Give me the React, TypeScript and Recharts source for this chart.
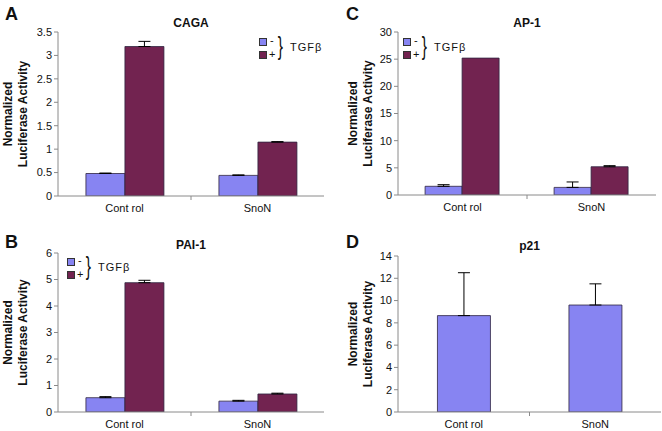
import React from 'react';
import { BarChart, Bar, XAxis, YAxis, ErrorBar } from 'recharts';

const categories = ['Cont rol', 'SnoN'];

// A: CAGA
const cagaMinus = [0.48, 0.44];
const cagaMinusTop = [0.49, 0.45];
const cagaPlus = [3.19, 1.15];
const cagaPlusTop = [3.3, 1.16];
const cagaTicks = [0, 0.5, 1, 1.5, 2, 2.5, 3, 3.5];

// C: AP-1
const ap1Minus = [1.6, 1.4];
const ap1MinusTop = [1.9, 2.4];
const ap1Plus = [25.2, 5.2];
const ap1PlusTop = [25.2, 5.4];
const ap1Ticks = [0, 5, 10, 15, 20, 25, 30];

// B: PAI-1
const paiMinus = [0.54, 0.41];
const paiMinusTop = [0.58, 0.44];
const paiPlus = [4.88, 0.68];
const paiPlusTop = [4.97, 0.71];
const paiTicks = [0, 1, 2, 3, 4, 5, 6];

// D: p21
const p21 = [8.65, 9.6];
const p21Top = [12.5, 11.5];
const p21Ticks = [0, 2, 4, 6, 8, 10, 12, 14];

const LIGHT = '#8784f2';
const DARK = '#722350';
const AXIS = '#8a8a8a';
const FONT = '"Liberation Sans", Arial, sans-serif';

// upward-only error: [below, above]; no bar drawn when nothing shows
const upErr = (v: number, top: number) => (top > v ? [0, top - v] : null);

const pairRows = (minus: number[], minusTop: number[], plus: number[], plusTop: number[]) =>
    categories.map((c, i) => ({
        name: c,
        minus: minus[i],
        minusErr: upErr(minus[i], minusTop[i]),
        plus: plus[i],
        plusErr: upErr(plus[i], plusTop[i]),
    }));

const YLabel = (props: any) => {
    const { viewBox, dx1, dx2 } = props;
    const cy = viewBox.y + viewBox.height / 2;
    const a = viewBox.x + dx1;
    const b = viewBox.x + dx2;
    return (
        <g fontFamily={FONT} fontWeight="bold" fontSize={12} fill="#111">
            <text x={a} y={cy} textAnchor="middle" dominantBaseline="central" transform={`rotate(-90, ${a}, ${cy})`}>Normalized</text>
            <text x={b} y={cy} textAnchor="middle" dominantBaseline="central" transform={`rotate(-90, ${b}, ${cy})`}>Luciferase Activity</text>
        </g>
    );
};

const XTick = (props: any) => {
    const { x, y, payload, index } = props;
    const off = payload && payload.offset ? payload.offset : 0;
    return (
        <g>
            <text x={x} y={y + 12} textAnchor="middle" dominantBaseline="central" fontFamily={FONT} fontSize={11} fill="#111">{payload.value}</text>
            {index === 0 && off ? <line x1={x + off} x2={x + off} y1={y} y2={y + 4} stroke={AXIS} /> : null}
        </g>
    );
};

const TgfLegend = ({ x, y }: { x: number; y: number }) => (
    <div style={{ position: 'absolute', left: x, top: y, width: 60, height: 24, fontFamily: FONT, fontSize: 11, color: '#111' }}>
        <div style={{ position: 'absolute', left: 0, top: 1, width: 6, height: 6, background: LIGHT, border: '1px solid #333' }} />
        <div style={{ position: 'absolute', left: 0, top: 14, width: 6, height: 6, background: DARK, border: '1px solid #333' }} />
        <div style={{ position: 'absolute', left: 11, top: -3, lineHeight: '12px' }}>-</div>
        <div style={{ position: 'absolute', left: 10, top: 11, lineHeight: '12px' }}>+</div>
        <div style={{ position: 'absolute', left: 17, top: -6, fontSize: 26, lineHeight: '30px', fontWeight: 300, transform: 'scaleX(0.6)' }}>{'}'}</div>
        <div style={{ position: 'absolute', left: 31, top: 3, lineHeight: '14px', letterSpacing: 1 }}>TGFβ</div>
    </div>
);

const Panel = (props: any) => {
    const { left, top, width, height, margin, yWidth, plotH, domain, ticks, data, pair, letter, title, titleTop, legendPos, dx1, dx2, catGap } = props;
    return (
        <div style={{ position: 'absolute', left, top, width, height }}>
            <div style={{ position: 'absolute', left: letter.x, top: letter.y, fontFamily: FONT, fontWeight: 'bold', fontSize: 18, lineHeight: '18px', color: '#111' }}>{letter.t}</div>
            <div style={{ position: 'absolute', left: margin.left + yWidth, width: width - margin.left - margin.right - yWidth, top: titleTop, textAlign: 'center', fontFamily: FONT, fontWeight: 'bold', fontSize: 12, lineHeight: '14px', color: '#111' }}>{title}</div>
            <BarChart width={width} height={height} data={data} margin={margin} barCategoryGap={catGap} barGap={0}>
                <XAxis dataKey="name" axisLine={{ stroke: AXIS }} tickLine={false} tickSize={0} tickMargin={0} height={height - margin.top - margin.bottom - plotH} tick={<XTick />} interval={0} />
                <XAxis xAxisId="t" orientation="top" dataKey="name" axisLine={{ stroke: AXIS }} tick={false} tickLine={false} height={0} />
                <YAxis domain={domain} ticks={ticks} interval={0} allowDataOverflow width={yWidth} axisLine={{ stroke: AXIS }} tickLine={{ stroke: AXIS }} tickSize={4} tickMargin={2}
                    tick={{ fontFamily: FONT, fontSize: 11, fill: '#111' }}
                    label={<YLabel dx1={dx1} dx2={dx2} />} />
                <YAxis yAxisId="r" orientation="right" width={0} domain={domain} axisLine={{ stroke: AXIS }} tick={false} tickLine={false} />
                {pair ? (
                    <>
                        <Bar dataKey="minus" name="-" fill={LIGHT} stroke="#2e2540" strokeWidth={0.8} isAnimationActive={false}>
                            <ErrorBar dataKey="minusErr" width={6} stroke="#000" strokeWidth={1} direction="y" />
                        </Bar>
                        <Bar dataKey="plus" name="+" fill={DARK} stroke="#2e2540" strokeWidth={0.8} isAnimationActive={false}>
                            <ErrorBar dataKey="plusErr" width={6} stroke="#000" strokeWidth={1} direction="y" />
                        </Bar>
                    </>
                ) : (
                    <Bar dataKey="v" fill={LIGHT} stroke="#2e2540" strokeWidth={0.8} isAnimationActive={false}>
                        <ErrorBar dataKey="err" width={6} stroke="#000" strokeWidth={1} direction="y" />
                    </Bar>
                )}
            </BarChart>
            {pair ? <TgfLegend x={legendPos.x} y={legendPos.y} /> : null}
        </div>
    );
};

export default function App() {
    const cagaData = pairRows(cagaMinus, cagaMinusTop, cagaPlus, cagaPlusTop);
    const ap1Data = pairRows(ap1Minus, ap1MinusTop, ap1Plus, ap1PlusTop);
    const paiData = pairRows(paiMinus, paiMinusTop, paiPlus, paiPlusTop);
    const p21Data = categories.map((c, i) => ({ name: c, v: p21[i], err: upErr(p21[i], p21Top[i]) }));

    return (
        <div style={{ position: 'absolute', left: 0, top: 0, width: 662, height: 431, background: '#fff', overflow: 'hidden' }}>
            <Panel left={0} top={0} width={331} height={215} margin={{ top: 32, right: 7, bottom: 0, left: 0 }} yWidth={58} plotH={164}
                domain={[0, 3.5]} ticks={cagaTicks} data={cagaData} pair letter={{ t: 'A', x: 5, y: 5 }} title="CAGA" titleTop={16}
                legendPos={{ x: 259, y: 37 }} dx1={8} dx2={23} catGap="21%" />
            <Panel left={331} top={0} width={331} height={215} margin={{ top: 32, right: 6, bottom: 0, left: 0 }} yWidth={67} plotH={163}
                domain={[0, 30]} ticks={ap1Ticks} data={ap1Data} pair letter={{ t: 'C', x: 15, y: 5 }} title="AP-1" titleTop={16}
                legendPos={{ x: 72, y: 37 }} dx1={22} dx2={37} catGap="21%" />
            <Panel left={0} top={215} width={331} height={216} margin={{ top: 38, right: 7, bottom: 0, left: 0 }} yWidth={58} plotH={159}
                domain={[0, 6]} ticks={paiTicks} data={paiData} pair letter={{ t: 'B', x: 5, y: 18 }} title="PAI-1" titleTop={23}
                legendPos={{ x: 67, y: 42 }} dx1={8} dx2={23} catGap="21%" />
            <Panel left={331} top={215} width={331} height={216} margin={{ top: 41, right: 1, bottom: 0, left: 0 }} yWidth={67} plotH={156}
                domain={[0, 14]} ticks={p21Ticks} data={p21Data} pair={false} letter={{ t: 'D', x: 15, y: 18 }} title="p21" titleTop={24}
                legendPos={{ x: 0, y: 0 }} dx1={22} dx2={37} catGap="30%" />
        </div>
    );
}
